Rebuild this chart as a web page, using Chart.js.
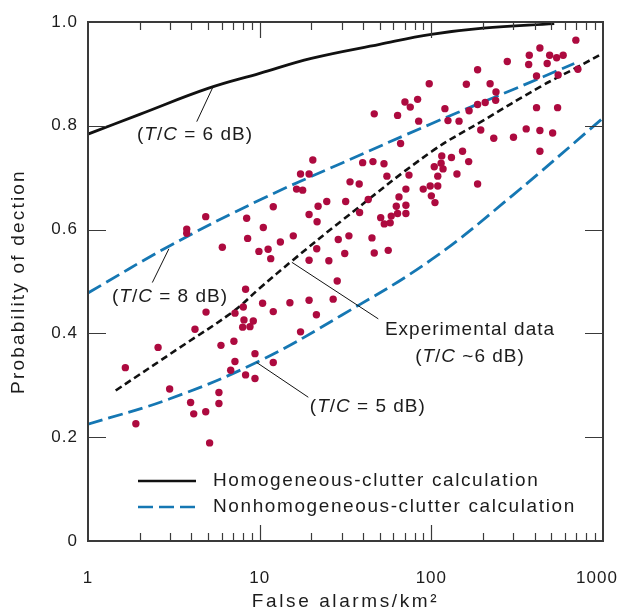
<!DOCTYPE html>
<html>
<head>
<meta charset="utf-8">
<script src="https://cdn.jsdelivr.net/npm/chart.js@4.4.1/dist/chart.umd.min.js"></script>
<style>
    html, body { margin: 0; padding: 0; background: #fff; }
</style>
</head>
<body>
<canvas id="pd-chart" width="621" height="611"></canvas>
<script>
// experimental points: false alarms per km2 vs probability of detection
var exp_alarms = [4.85, 3.76, 3.76, 8.40, 10.5, 8.51, 6.06, 9.9, 8.28, 10.4, 8.03, 4.87, 7.18, 8.10, 9.18,
    4.20, 7.96, 8.78, 2.56, 5.95, 7.08, 1.65, 7.18, 9.39, 6.78, 8.28, 9.39, 2.99, 5.79, 3.96, 5.79, 4.13, 4.85, 1.90, 5.11,
    46.5, 70.2, 75.4, 83.2, 63.6, 84.4, 66.2, 20.4, 17.3, 19.4, 39.8, 45.7, 53.0, 55.1, 74.1,
    33.6, 38.0, 16.4, 17.8, 71.1, 89.7, 12.0, 21.9, 24.6, 31.7, 42.9, 64.8, 62.5, 71.1, 19.4, 21.6, 38.2, 63.6, 71.1,
    50.7, 58.4, 53.2, 57.6, 15.7, 13.2, 28.7, 33.1, 45.1, 11.2, 11.6, 21.5, 19.4, 25.3, 31.3, 46.5, 56.1, 28.3,
    15.0, 12.0, 19.4, 26.8, 21.4, 17.3, 12.0,
    695, 429, 372, 489, 586, 537, 277, 369, 473, 714, 186, 548, 410, 97.2, 160, 220, 238, 237, 206, 186,
    120, 166, 410, 544, 125, 145, 194, 357, 429, 509, 231, 301, 152, 429, 115, 131, 165, 114, 104, 117,
    109, 141, 98.5, 109, 100, 105, 186];
var exp_pd = [0.625, 0.601, 0.593, 0.622, 0.604, 0.583, 0.566, 0.558, 0.485, 0.458, 0.451, 0.441, 0.439, 0.426, 0.424,
    0.408, 0.412, 0.413, 0.373, 0.377, 0.385, 0.334, 0.346, 0.361, 0.329, 0.320, 0.313, 0.293, 0.286, 0.267, 0.265, 0.245, 0.249, 0.226, 0.189,
    0.823, 0.846, 0.836, 0.851, 0.820, 0.809, 0.766, 0.734, 0.707, 0.707, 0.729, 0.731, 0.727, 0.703, 0.705,
    0.692, 0.688, 0.678, 0.676, 0.678, 0.678, 0.644, 0.645, 0.654, 0.654, 0.658, 0.663, 0.645, 0.647, 0.629, 0.615, 0.633, 0.631, 0.631,
    0.623, 0.626, 0.611, 0.613, 0.588, 0.576, 0.581, 0.588, 0.584, 0.562, 0.544, 0.563, 0.541, 0.540, 0.554, 0.555, 0.560, 0.501,
    0.459, 0.442, 0.464, 0.466, 0.436, 0.403, 0.344,
    0.965, 0.950, 0.936, 0.936, 0.936, 0.931, 0.924, 0.918, 0.920, 0.909, 0.908, 0.898, 0.896, 0.881, 0.880, 0.881, 0.865, 0.849, 0.845, 0.841,
    0.833, 0.829, 0.835, 0.835, 0.810, 0.809, 0.792, 0.794, 0.791, 0.786, 0.776, 0.778, 0.751, 0.751, 0.742, 0.739, 0.731, 0.728, 0.721, 0.717,
    0.703, 0.707, 0.684, 0.684, 0.665, 0.652, 0.688];

// fitted curve through the experimental data (T/C ~6 dB)
var fit_alarms = [1.45, 3.4, 7, 10, 15.6, 30, 100, 200, 430, 700, 1000];
var fit_pd = [0.29, 0.372, 0.442, 0.487, 0.541, 0.617, 0.75, 0.81, 0.875, 0.912, 0.94];

// homogeneous-clutter calculation (T/C = 6 dB)
var homog_alarms = [1, 2, 5, 10, 20, 50, 100, 200, 520];
var homog_pd = [0.784, 0.822, 0.872, 0.901, 0.93, 0.957, 0.976, 0.988, 0.997];

// nonhomogeneous-clutter calculation, T/C = 8 dB and T/C = 5 dB
var nonhom8_alarms = [1, 3, 10, 30, 100, 200, 300, 680];
var nonhom8_pd = [0.478, 0.569, 0.657, 0.728, 0.804, 0.846, 0.87, 0.92];
var nonhom5_alarms = [1, 3, 10, 30, 100, 300, 1000];
var nonhom5_pd = [0.225, 0.274, 0.347, 0.435, 0.542, 0.667, 0.815];

var x_tick_values = [1, 10, 100, 1000];
var y_tick_values = [0, 0.2, 0.4, 0.6, 0.8, 1.0];

var FONT_FAMILY = "'Liberation Sans', Arial, sans-serif";
var TEXT_COLOR = '#1c1c1c';
var DOT_COLOR = '#ad0a3f';
var BLUE = '#1577b3';

// curve labels, anchored in data space
var note_labels = [
    { parts: [['(', 0], ['T', 1], ['/', 0], ['C', 1], [' = 6 dB)', 0]], x: 1.93, y: 0.782, align: 'left' },
    { parts: [['(', 0], ['T', 1], ['/', 0], ['C', 1], [' = 8 dB)', 0]], x: 1.38, y: 0.471, align: 'left' },
    { parts: [['Experimental data', 0]], x: 168, y: 0.407, align: 'center' },
    { parts: [['(', 0], ['T', 1], ['/', 0], ['C', 1], [' ~6 dB)', 0]], x: 168, y: 0.355, align: 'center' },
    { parts: [['(', 0], ['T', 1], ['/', 0], ['C', 1], [' = 5 dB)', 0]], x: 19.6, y: 0.258, align: 'left' }
];
var leader_lines = [
    [4.30, 0.808, 5.33, 0.874],
    [2.37, 0.498, 2.96, 0.563],
    [15.4, 0.537, 49.1, 0.428],
    [9.6, 0.344, 19.2, 0.277]
];

function toPoints(xs, ys) {
    var out = [];
    for (var i = 0; i < xs.length; i++) {
        out.push({ x: xs[i], y: ys[i] });
    }
    return out;
}

function drawRich(ctx, parts, x, y, align, size) {
    var total = 0;
    parts.forEach(function (p) {
        ctx.font = (p[1] ? 'italic ' : '') + size + 'px ' + FONT_FAMILY;
        total += ctx.measureText(p[0]).width;
    });
    var cx = align === 'center' ? x - total / 2 : x;
    parts.forEach(function (p) {
        ctx.font = (p[1] ? 'italic ' : '') + size + 'px ' + FONT_FAMILY;
        ctx.fillText(p[0], cx, y);
        cx += ctx.measureText(p[0]).width;
    });
}

// axis titles are tracked wider than the tick labels
function spreadTitle(scale, spacing) {
    if (scale._spreadTitle) return;
    var orig = scale.drawTitle;
    scale.drawTitle = function () {
        this.ctx.save();
        this.ctx.letterSpacing = spacing;
        orig.apply(this, arguments);
        this.ctx.restore();
    };
    scale._spreadTitle = true;
}

var spacingPlugin = {
    id: 'spacing',
    beforeUpdate: function (chart) { chart.ctx.letterSpacing = '1px'; },
    afterLayout: function (chart) {
        spreadTitle(chart.scales.x, '2.6px');
        spreadTitle(chart.scales.y, '2.2px');
    },
    beforeDraw: function (chart) {
        chart.ctx.letterSpacing = '1px';
        // nudge the last x label ("1000") inside the canvas, as in the print
        var items = chart.scales.x.getLabelItems(chart.chartArea);
        var last = items[items.length - 1];
        if (last && !last._nudged) {
            last.options.translation[0] -= 6;
            last._nudged = true;
        }
    }
};

var framePlugin = {
    id: 'frameTicks',
    afterDatasetsDraw: function (chart) {
        var ctx = chart.ctx;
        var a = chart.chartArea;
        var xs = chart.scales.x;
        var ys = chart.scales.y;

        ctx.save();
        ctx.strokeStyle = '#3a3a3a';
        ctx.lineWidth = 2;
        ctx.strokeRect(a.left, a.top, a.right - a.left, a.bottom - a.top);

        // inner ticks, log decades on x
        ctx.lineWidth = 1.2;
        ctx.beginPath();
        [1, 10, 100].forEach(function (dec) {
            for (var m = 1; m <= 9; m++) {
                var v = dec * m;
                if (v <= 1) continue;
                var px = Math.round(xs.getPixelForValue(v)) + 0.5;
                var len = m === 1 ? 16 : 8;
                ctx.moveTo(px, a.bottom);
                ctx.lineTo(px, a.bottom - len);
                ctx.moveTo(px, a.top);
                ctx.lineTo(px, a.top + len);
            }
        });
        y_tick_values.forEach(function (v) {
            if (v <= 0 || v >= 1) return;
            var py = Math.round(ys.getPixelForValue(v)) + 0.5;
            ctx.moveTo(a.left, py);
            ctx.lineTo(a.left + 18, py);
            ctx.moveTo(a.right, py);
            ctx.lineTo(a.right - 18, py);
        });
        ctx.stroke();

        // leader lines
        ctx.strokeStyle = '#111';
        ctx.lineWidth = 1;
        ctx.beginPath();
        leader_lines.forEach(function (l) {
            ctx.moveTo(xs.getPixelForValue(l[0]), ys.getPixelForValue(l[1]));
            ctx.lineTo(xs.getPixelForValue(l[2]), ys.getPixelForValue(l[3]));
        });
        ctx.stroke();

        // curve labels
        ctx.fillStyle = TEXT_COLOR;
        ctx.textBaseline = 'middle';
        ctx.textAlign = 'left';
        note_labels.forEach(function (n) {
            drawRich(ctx, n.parts, xs.getPixelForValue(n.x), ys.getPixelForValue(n.y), n.align, 19);
        });

        // legend
        var lx = a.left + 50;
        var ly1 = a.bottom - 60;
        var ly2 = a.bottom - 34;
        ctx.lineWidth = 2.6;
        ctx.strokeStyle = '#111';
        ctx.beginPath();
        ctx.moveTo(lx, ly1);
        ctx.lineTo(lx + 58, ly1);
        ctx.stroke();
        ctx.strokeStyle = BLUE;
        ctx.setLineDash([15, 6]);
        ctx.beginPath();
        ctx.moveTo(lx, ly2);
        ctx.lineTo(lx + 58, ly2);
        ctx.stroke();
        ctx.setLineDash([]);
        ctx.letterSpacing = '1.6px';
        drawRich(ctx, [['Homogeneous-clutter calculation', 0]], lx + 75, ly1, 'left', 19);
        drawRich(ctx, [['Nonhomogeneous-clutter calculation', 0]], lx + 75, ly2, 'left', 19);
        ctx.restore();
    }
};

Chart.defaults.font.family = FONT_FAMILY;
Chart.defaults.color = TEXT_COLOR;

var PdChart = new Chart(document.getElementById('pd-chart'), {
    type: 'scatter',
    data: {
        datasets: [{
            label: 'Experimental data',
            data: toPoints(exp_alarms, exp_pd),
            backgroundColor: DOT_COLOR,
            borderWidth: 0,
            pointRadius: 3.7
        }, {
            label: 'Experimental fit',
            data: toPoints(fit_alarms, fit_pd),
            showLine: true,
            borderColor: '#111',
            borderWidth: 2.6,
            borderDash: [7, 4],
            pointRadius: 0,
            tension: 0.4
        }, {
            label: 'Homogeneous-clutter calculation',
            data: toPoints(homog_alarms, homog_pd),
            showLine: true,
            borderColor: '#111',
            borderWidth: 2.8,
            pointRadius: 0,
            tension: 0.4
        }, {
            label: 'Nonhomogeneous-clutter calculation (8 dB)',
            data: toPoints(nonhom8_alarms, nonhom8_pd),
            showLine: true,
            borderColor: BLUE,
            borderWidth: 2.8,
            borderDash: [15, 6],
            pointRadius: 0,
            tension: 0.4
        }, {
            label: 'Nonhomogeneous-clutter calculation (5 dB)',
            data: toPoints(nonhom5_alarms, nonhom5_pd),
            showLine: true,
            borderColor: BLUE,
            borderWidth: 2.8,
            borderDash: [15, 6],
            pointRadius: 0,
            tension: 0.4
        }]
    },
    plugins: [spacingPlugin, framePlugin],
    options: {
        responsive: false,
        animation: false,
        events: [],
        layout: { padding: { top: 22, right: 18, left: 0, bottom: 0 } },
        plugins: {
            legend: { display: false },
            tooltip: { enabled: false }
        },
        scales: {
            x: {
                type: 'logarithmic',
                min: 1,
                max: 1000,
                grid: { display: false, drawTicks: false },
                border: { display: false },
                afterBuildTicks: function (scale) {
                    scale.ticks = x_tick_values.map(function (v) { return { value: v }; });
                },
                afterFit: function (scale) {
                    scale.height = 70;
                    scale.paddingLeft = 0;
                    scale.paddingRight = 0;
                },
                ticks: {
                    autoSkip: false,
                    maxRotation: 0,
                    padding: 27,
                    font: { size: 17 },
                    callback: function (value) { return String(value); }
                },
                title: {
                    display: true,
                    text: 'False alarms/km²',
                    font: { size: 19 },
                    padding: { top: 0, bottom: -2 }
                }
            },
            y: {
                min: 0,
                max: 1,
                grid: { display: false, drawTicks: false },
                border: { display: false },
                afterBuildTicks: function (scale) {
                    scale.ticks = y_tick_values.map(function (v) { return { value: v }; });
                },
                afterFit: function (scale) {
                    scale.width = 88;
                    scale.paddingTop = 0;
                    scale.paddingBottom = 0;
                },
                ticks: {
                    autoSkip: false,
                    padding: 10,
                    font: { size: 17 },
                    callback: function (value) { return value === 0 ? '0' : value.toFixed(1); }
                },
                title: {
                    display: true,
                    text: 'Probability of dection',
                    font: { size: 19 },
                    padding: { top: 7, bottom: 0 }
                }
            }
        }
    }
});
</script>
</body>
</html>
